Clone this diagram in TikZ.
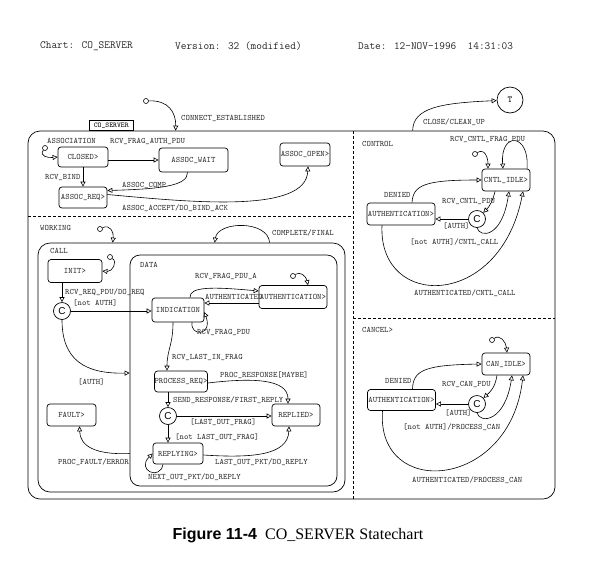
\documentclass[tikz,border=0pt]{standalone}
\usepackage{fontspec}
\setmainfont{Liberation Serif}
\newfontfamily\capfont{Liberation Sans}
\usetikzlibrary{arrows.meta}

\begin{document}
\begin{tikzpicture}[
    x=1pt, y=-1pt,
    % Estados simples (caixas arredondadas)
    estado/.style={draw, rounded corners=3pt, line width=0.7pt, inner sep=0pt,
        font=\ttfamily\fontsize{8.3}{9}\selectfont, text=black!80},
    % Estados compostos
    caixa/.style={draw, rounded corners=12pt, line width=0.7pt, inner sep=0pt},
    % Conector condicional
    cond/.style={draw, circle, line width=0.7pt, minimum size=17pt, inner sep=0pt,
        font=\capfont\fontsize{10}{10}\selectfont},
    % Ponto de partida da transicao default
    ponto/.style={draw, circle, line width=0.6pt, minimum size=5pt, inner sep=0pt},
    % Transicoes
    trans/.style={-{Triangle[open, length=5pt, width=5pt]}, line width=0.6pt},
    % Rotulos das transicoes
    rotulo/.style={font=\ttfamily\fontsize{8.3}{9}\selectfont, text=black!80,
        inner sep=0pt, anchor=west},
    divisa/.style={dash pattern=on 3pt off 2pt, line width=0.6pt},
    cabec/.style={font=\ttfamily\fontsize{11}{12}\selectfont, text=black!85,
        inner sep=0pt, anchor=west}
]
    \useasboundingbox (0,0) rectangle (594,574);

    % ==========================================
    % 1. CABECALHO
    % ==========================================
    \node[cabec] (chart) at (40,46) {Chart: CO\_SERVER};
    \node[cabec] (versao) at (175,46) {Version: 32 (modified)};
    \node[cabec] (data) at (358,46) {Date: 12-NOV-1996\ \ 14:31:03};

    % ==========================================
    % 2. ESTADO CO_SERVER E AS DIVISOES
    % ==========================================
    \node[caixa, minimum width=527, minimum height=368] (coserver) at (291.5,315) {};
    \node[draw, line width=0.6pt, minimum width=44, minimum height=10, inner sep=0pt,
        font=\ttfamily\fontsize{7.3}{8}\selectfont, anchor=south west] (aba)
        at (coserver.north west -| 89,0) {CO\_SERVER};
    \draw[divisa] (353,131) -- (353,499);
    \draw[divisa] (28,216) -- (353,216);
    \draw[divisa] (353,318) -- (555,318);

    \node[ponto] (d0) at (146,101) {};
    \draw[trans] (d0) .. controls (168,100) and (176,112) .. ([xshift=148pt]coserver.north west);
    \node[rotulo] at (181,118) {CONNECT\_ESTABLISHED};

    \node[cond, minimum size=26pt, font=\ttfamily\fontsize{9}{9}\selectfont] (fim) at (510,100) {T};
    \draw[trans] ([xshift=385pt]coserver.north west) .. controls (413,108) and (440,103) .. (fim);
    \node[rotulo] at (423,122) {CLOSE/CLEAN\_UP};

    % ==========================================
    % 3. ASSOCIATION
    % ==========================================
    \node[rotulo] at (47,141) {ASSOCIATION};
    \node[estado, minimum width=50, minimum height=20] (closed) at (83,157) {CLOSED>};
    \node[estado, minimum width=69, minimum height=24] (wait) at (193.5,160) {ASSOC\_WAIT};
    \node[estado, minimum width=48, minimum height=21] (req) at (83,197.5) {ASSOC\_REQ>};
    \node[estado, minimum width=50, minimum height=23] (open) at (305,154.5) {ASSOC\_OPEN>};

    \node[ponto] (d1) at (45,148) {};
    \draw[trans] (d1) .. controls (39,156) and (48,158) .. (closed.west);
    \draw[trans] (closed.east |- wait.west) -- (wait.west);
    \node[rotulo] at (110,141) {RCV\_FRAG\_AUTH\_PDU};
    \draw[trans] (closed.south) -- (req.north);
    \node[rotulo] at (45,177) {RCV\_BIND};
    \draw[trans] ([xshift=-6pt]wait.south) .. controls (188,186) and (160,189) .. ([yshift=7pt]req.east);
    \node[rotulo] at (122,185) {ASSOC\_COMP};
    \draw[trans] ([yshift=3pt]req.east) .. controls (190,202) and (306,214) .. ([xshift=3pt]open.south);
    \node[rotulo] at (122,208) {ASSOC\_ACCEPT/DO\_BIND\_ACK};

    % ==========================================
    % 4. WORKING / CALL / DATA
    % ==========================================
    \node[rotulo] at (40,228) {WORKING};
    \node[caixa, minimum width=307, minimum height=249] (call) at (191.5,367.5) {};
    \node[caixa, rounded corners=10pt, minimum width=207, minimum height=231] (dados) at (233.5,370.5) {};

    \node[ponto] (d2) at (100,229) {};
    \draw[trans] (d2) .. controls (110,224) and (114,232) .. ([xshift=75pt]call.north west);
    \draw[trans] ([xshift=232pt]call.north west) .. controls (268,220) and (218,221) .. ([xshift=177pt]call.north west);
    \node[rotulo] at (272,233) {COMPLETE/FINAL};

    \node[rotulo] at (50,251) {CALL};
    \node[rotulo] at (140,265) {DATA};

    % Estados de CALL
    \node[estado, minimum width=54, minimum height=23] (init) at (75,271) {INIT>};
    \node[cond] (c1) at (62,311) {C};
    \node[estado, minimum width=49, minimum height=22] (fault) at (71.5,415) {FAULT>};

    \node[ponto] (d3) at (110,257) {};
    \draw[trans] (d3) .. controls (118,262) and (112,272) .. (init.east);
    \draw[trans] (c1 |- init.south) -- (c1.north);
    \node[rotulo] at (65,292) {RCV\_REQ\_PDU/DO\_REQ};

    % Estados de DATA
    \node[estado, minimum width=52, minimum height=24] (ind) at (178,310) {INDICATION};
    \node[estado, minimum width=68, minimum height=23] (auth1) at (293,297) {AUTHENTICATION>};
    \node[estado, minimum width=48, minimum height=21] (proc) at (181,381.5) {PROCESS\_REQ>};
    \node[cond] (c2) at (168,416) {C};
    \node[estado, minimum width=48, minimum height=22] (repl) at (296,415) {REPLIED>};
    \node[estado, minimum width=50, minimum height=21] (reply) at (178,453.5) {REPLYING>};

    \draw[trans] (c1) -- (c1 -| ind.west);
    \node[rotulo] at (73,303) {[not AUTH]};
    \draw[trans] (c1.south) .. controls (62,360) and (85,374) .. ([yshift=-2.5pt]dados.west);
    \node[rotulo] at (78,382) {[AUTH]};

    \node[ponto] (d4) at (293,276) {};
    \draw[trans] (d4) .. controls (300,271) and (306,276) .. ([xshift=15pt]auth1.north);
    \draw[trans] ([xshift=12pt]ind.north) .. controls (189,286) and (215,287) .. ([yshift=6pt]auth1.west);
    \node[rotulo] at (195,276) {RCV\_FRAG\_PDU\_A};
    \draw[trans] ([yshift=-6pt]auth1.west) -- ([yshift=7pt]ind.east);
    \node[rotulo] at (205,297) {AUTHENTICATED};
    \draw[trans] ([xshift=14pt]ind.south) .. controls (190,337) and (213,336) .. ([yshift=-2pt]ind.east);
    \node[rotulo] at (197,332) {RCV\_FRAG\_PDU};

    \draw[trans] ([xshift=-5pt]ind.south) .. controls (173,345) and (167,350) .. ([xshift=-14pt]proc.north);
    \node[rotulo] at (172,357) {RCV\_LAST\_IN\_FRAG};
    \draw[trans] ([yshift=-1.5pt]proc.east) .. controls (250,378) and (288,378) .. ([xshift=-8pt]repl.north);
    \node[rotulo] at (220,375) {PROC\_RESPONSE[MAYBE]};
    \draw[trans] (c2 |- proc.south) -- (c2.north);
    \node[rotulo] at (173,400) {SEND\_RESPONSE/FIRST\_REPLY};
    \draw[trans] (c2) -- (c2 -| repl.west);
    \node[rotulo] at (190,422) {[LAST\_OUT\_FRAG]};
    \draw[trans] (c2) -- (c2 |- reply.north);
    \node[rotulo] at (175,437) {[not LAST\_OUT\_FRAG]};
    \draw[trans] ([yshift=-1.5pt]reply.east) .. controls (250,458) and (288,456) .. ([xshift=-7pt]repl.south);
    \node[rotulo] at (215,462) {LAST\_OUT\_PKT/DO\_REPLY};
    \draw[trans] ([xshift=-15pt]reply.south) .. controls (160,481) and (136,470) .. (reply.west);
    \node[rotulo] at (148,477) {NEXT\_OUT\_PKT/DO\_REPLY};
    \draw[trans] (dados.west |- reply.east) .. controls (95,455) and (80,446) .. ([xshift=8pt]fault.south);
    \node[rotulo] at (58,462) {PROC\_FAULT/ERROR};

    % ==========================================
    % 5. CONTROL
    % ==========================================
    \node[rotulo] at (362,144) {CONTROL};
    \node[estado, minimum width=48, minimum height=22] (idle) at (506,180) {CNTL\_IDLE>};
    \node[estado, minimum width=68, minimum height=22] (auth2) at (401,214) {AUTHENTICATION>};
    \node[cond] (c3) at (477,219) {C};

    \node[ponto] (d5) at (475,154) {};
    \draw[trans] (d5) .. controls (485,148) and (488,158) .. ([xshift=-18pt]idle.north);
    \draw[trans] ([xshift=21pt]idle.north) .. controls (530,133) and (500,131) .. ([xshift=-3pt]idle.north);
    \node[rotulo] at (450,139) {RCV\_CNTL\_FRAG\_PDU};
    \draw[trans] ([xshift=11pt]auth2.north) .. controls (413,185) and (425,180) .. (idle.west);
    \node[rotulo] at (384,195) {DENIED};
    \draw[trans] ([xshift=-11pt]idle.south) .. controls (493,200) and (490,206) .. (c3);
    \node[rotulo] at (442,201) {RCV\_CNTL\_PDU};
    \draw[trans] (c3) -- (c3 -| auth2.east);
    \node[rotulo] at (443,226) {[AUTH]};
    \draw[trans] (c3.south) .. controls (480,238) and (502,238) .. ([xshift=3pt]idle.south);
    \node[rotulo] at (410,242) {[not AUTH]/CNTL\_CALL};
    \draw[trans] ([xshift=-19pt]auth2.south) .. controls (378,310) and (500,310) .. ([xshift=17pt]idle.south);
    \node[rotulo] at (414,293) {AUTHENTICATED/CNTL\_CALL};

    % ==========================================
    % 6. CANCEL
    % ==========================================
    \node[rotulo] at (362,330) {CANCEL>};
    \node[estado, minimum width=48, minimum height=22] (cidle) at (506,364) {CAN\_IDLE>};
    \node[estado, minimum width=68, minimum height=21] (auth3) at (401.5,400) {AUTHENTICATION>};
    \node[cond] (c4) at (477,404) {C};

    \node[ponto] (d6) at (492,340) {};
    \draw[trans] (d6) .. controls (500,334) and (506,342) .. ([xshift=1pt]cidle.north);
    \draw[trans] ([xshift=11pt]auth3.north) .. controls (413,370) and (425,365) .. (cidle.west);
    \node[rotulo] at (385,381) {DENIED};
    \draw[trans] ([xshift=-9pt]cidle.south) .. controls (495,388) and (490,392) .. (c4);
    \node[rotulo] at (442,384) {RCV\_CAN\_PDU};
    \draw[trans] (c4) -- (c4 -| auth3.east);
    \node[rotulo] at (445,413) {[AUTH]};
    \draw[trans] (c4.south) .. controls (480,424) and (505,422) .. ([xshift=6pt]cidle.south);
    \node[rotulo] at (403,427) {[not AUTH]/PROCESS\_CAN};
    \draw[trans] ([xshift=-19pt]auth3.south) .. controls (376,500) and (510,490) .. ([xshift=17pt]cidle.south);
    \node[rotulo] at (412,480) {AUTHENTICATED/PROCESS\_CAN};

    % ==========================================
    % 7. LEGENDA
    % ==========================================
    \node[inner sep=0pt, font=\fontsize{16}{19}\selectfont] (legenda) at (298,535)
        {{\capfont\bfseries Figure 11-4}\ \ CO\_SERVER Statechart};

\end{tikzpicture}
\end{document}
